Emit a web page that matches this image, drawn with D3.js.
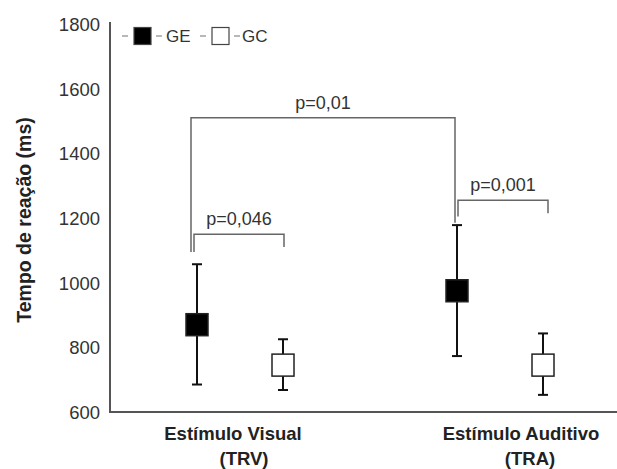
<!DOCTYPE html>
<html><head><meta charset="utf-8">
<script src="https://cdn.jsdelivr.net/npm/d3@7"></script>
<style>body{margin:0;background:#fff}svg{display:block}text{font-family:"Liberation Sans",Arial,sans-serif}</style>
</head><body><svg id="c" width="617" height="469"></svg>
<script>
const categories = ["Estímulo Visual|(TRV)", "Estímulo Auditivo|(TRA)"];
const groups = ["GE", "GC"];
const meanGE = [870, 975];
const lowGE = [685, 773];
const highGE = [1057, 1178];
const meanGC = [745, 745];
const lowGC = [668, 653];
const highGC = [825, 843];
const yTicks = [600, 800, 1000, 1200, 1400, 1600, 1800];
const comparisons = [
  {label: "p=0,046", from: [0, "GE"], to: [0, "GC"], level: 1150, legL: 1095, legR: 1110},
  {label: "p=0,01", from: [0, "GE"], to: [1, "GE"], level: 1510, legL: 1095, legR: 1185},
  {label: "p=0,001", from: [1, "GE"], to: [1, "GC"], level: 1255, legL: 1205, legR: 1215}
];
// bracket end nudges (pixels), layout only
const bracketNudge = [[-3, 1], [-6, -2], [1, 5]];

const svg = d3.select("#c");
const y = d3.scaleLinear().domain([600, 1800]).range([412, 24]);
const xCat = d3.scaleBand().domain(d3.range(categories.length)).range([110, 630]);
const xGrp = d3.scalePoint().domain(groups).range([-43, 43]);
const xC = i => xCat(i) + xCat.bandwidth() / 2;
const xPos = (i, g) => xC(i) + xGrp(g);

const data = [];
categories.forEach((c, i) => {
  data.push({i, g: "GE", m: meanGE[i], lo: lowGE[i], hi: highGE[i]});
  data.push({i, g: "GC", m: meanGC[i], lo: lowGC[i], hi: highGC[i]});
});

// Y axis
const yAxis = d3.axisLeft(y).tickValues(yTicks).tickSize(0).tickPadding(10).tickFormat(d3.format("d"));
const ga = svg.append("g").attr("transform", "translate(110,0)").call(yAxis);
ga.select(".domain").remove();
ga.selectAll("text").attr("font-size", 18.5).attr("fill", "#333").attr("dy", "0.35em")
  .style("font-family", '"Liberation Sans",Arial,sans-serif');
svg.append("line").attr("x1", 110).attr("x2", 110).attr("y1", 22).attr("y2", y(600) + 1)
  .attr("stroke", "#555").attr("stroke-width", 2);
svg.append("line").attr("x1", 109).attr("x2", 617).attr("y1", y(600)).attr("y2", y(600))
  .attr("stroke", "#555").attr("stroke-width", 2);

// axis title
svg.append("text").attr("transform", `translate(31,${(107 + 333) / 2}) rotate(-90)`)
  .attr("text-anchor", "middle").attr("font-size", 19.5).attr("font-weight", "bold").attr("fill", "#222")
  .text("Tempo de reação (ms)");

// category labels
const labelOffsets = [[-7, 4], [21, 30]];
categories.forEach((c, i) => {
  const lines = c.split("|");
  svg.append("text").attr("x", xC(i) + labelOffsets[i][0]).attr("y", 440).attr("text-anchor", "middle")
    .attr("font-size", 18.5).attr("font-weight", "bold").attr("fill", "#222").text(lines[0]);
  svg.append("text").attr("x", xC(i) + labelOffsets[i][1]).attr("y", 465).attr("text-anchor", "middle")
    .attr("font-size", 18.5).attr("font-weight", "bold").attr("fill", "#222").text(lines[1]);
});

// brackets
comparisons.forEach((c, k) => {
  const x1 = xPos(c.from[0], c.from[1]) + bracketNudge[k][0];
  const x2 = xPos(c.to[0], c.to[1]) + bracketNudge[k][1];
  const yl = y(c.level);
  svg.append("path")
    .attr("d", `M${x1},${y(c.legL)}V${yl}H${x2}V${y(c.legR)}`)
    .attr("fill", "none").attr("stroke", "#666").attr("stroke-width", 1.5);
  svg.append("text").attr("x", (x1 + x2) / 2).attr("y", yl - 9).attr("text-anchor", "middle")
    .attr("font-size", 18).attr("fill", "#333").text(c.label);
});

// error bars and squares
const g = svg.append("g");
data.forEach(d => {
  const cx = xPos(d.i, d.g);
  g.append("line").attr("x1", cx).attr("x2", cx).attr("y1", y(d.hi)).attr("y2", y(d.lo))
    .attr("stroke", "#111").attr("stroke-width", 2);
  [d.hi, d.lo].forEach(v => g.append("line").attr("x1", cx - 5).attr("x2", cx + 5)
    .attr("y1", y(v)).attr("y2", y(v)).attr("stroke", "#111").attr("stroke-width", 2));
  g.append("rect").attr("x", cx - 11).attr("y", y(d.m) - 11).attr("width", 22).attr("height", 22)
    .attr("fill", d.g === "GE" ? "#000" : "#fff").attr("stroke", "#222").attr("stroke-width", 1.5);
});

// legend
const lg = svg.append("g");
const legendItems = [{k: "GE", x: 122, fill: "#000"}, {k: "GC", x: 200, fill: "#fff"}];
legendItems.forEach(it => {
  lg.append("line").attr("x1", it.x).attr("x2", it.x + 6).attr("y1", 36).attr("y2", 36).attr("stroke", "#888").attr("stroke-width", 1.2);
  lg.append("rect").attr("x", it.x + 12).attr("y", 27.5).attr("width", 17).attr("height", 17)
    .attr("fill", it.fill).attr("stroke", "#444").attr("stroke-width", 1.2);
  lg.append("line").attr("x1", it.x + 34).attr("x2", it.x + 40).attr("y1", 36).attr("y2", 36).attr("stroke", "#888").attr("stroke-width", 1.2);
  lg.append("text").attr("x", it.x + 44 - (it.k === "GC" ? 2 : 0)).attr("y", 42).attr("font-size", 17).attr("fill", "#333").text(it.k);
});
</script></body></html>
